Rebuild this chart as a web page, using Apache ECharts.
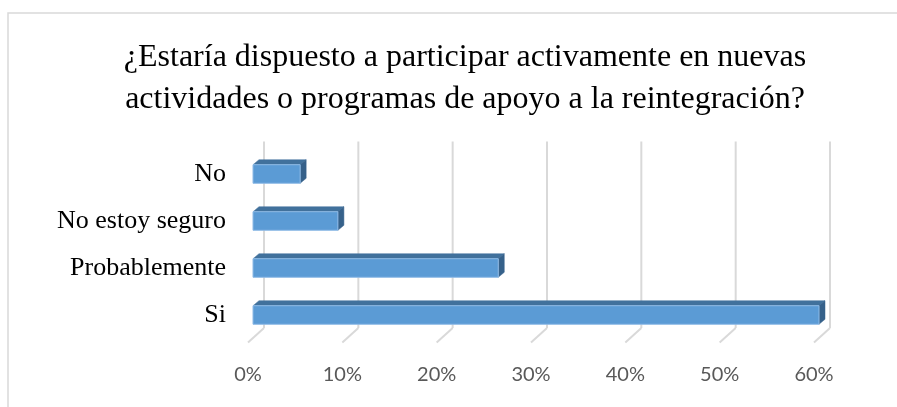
<!DOCTYPE html>
<html>
<head>
<meta charset="utf-8">
<script src="https://cdn.jsdelivr.net/npm/echarts@6/dist/echarts.min.js"></script>
<style>
html,body{margin:0;padding:0;background:#fff;}
#chart{width:897px;height:407px;}
</style>
</head>
<body>
<div id="chart"></div>
<script>
var titleLines = ['¿Estaría dispuesto a participar activamente en nuevas', 'actividades o programas de apoyo a la reintegración?'];
var categories = ['No', 'No estoy seguro', 'Probablemente', 'Si'];
var values = [0.05, 0.09, 0.26, 0.60];
var tickValues = [0, 0.1, 0.2, 0.3, 0.4, 0.5, 0.6];

var chart = echarts.init(document.getElementById('chart'), null, {renderer: 'canvas'});

var BACK_DX = 11, BACK_DY = -9, FRONT_DX = -5, FRONT_DY = 4;
var BAR_DX = 6, BAR_DY = -5;

function renderGrid(params, api) {
  var cs = params.coordSys;
  var p = api.coord([api.value(0), 0]);
  var x = p[0];
  var bottom = cs.y + cs.height;
  var gx = x + BACK_DX;
  var topY = cs.y + BACK_DY;
  var floorBackY = bottom - 10.5;
  var style = {stroke: '#d9d9d9', lineWidth: 2, fill: null};
  return {
    type: 'group',
    children: [
      {type: 'line', shape: {x1: gx, y1: topY, x2: gx, y2: floorBackY}, style: style},
      {type: 'line', shape: {x1: gx, y1: floorBackY, x2: x + FRONT_DX, y2: bottom + FRONT_DY}, style: style}
    ]
  };
}

function renderBar(params, api) {
  var start = api.coord([0, api.value(1)]);
  var end = api.coord([api.value(0), api.value(1)]);
  var h = api.size([0, 1])[1] * 0.395;
  var x0 = start[0], x1 = end[0];
  var y0 = start[1] - h / 2, y1 = start[1] + h / 2;
  return {
    type: 'group',
    children: [
      {type: 'polygon', shape: {points: [[x0, y0], [x0 + BAR_DX, y0 + BAR_DY], [x1 + BAR_DX, y0 + BAR_DY], [x1, y0]]},
        style: {fill: '#41719c', stroke: '#41719c', lineWidth: 0.5}},
      {type: 'polygon', shape: {points: [[x1, y0], [x1 + BAR_DX, y0 + BAR_DY], [x1 + BAR_DX, y1 + BAR_DY], [x1, y1]]},
        style: {fill: '#36618a', stroke: '#36618a', lineWidth: 0.5}},
      {type: 'rect', shape: {x: x0, y: y0, width: x1 - x0, height: y1 - y0},
        style: {fill: '#5b9bd5', stroke: '#8fbbe6', lineWidth: 1}}
    ]
  };
}

var option = {
  backgroundColor: '#ffffff',
  animation: false,
  graphic: [
    {type: 'rect', shape: {x: 8, y: 13, width: 1000, height: 1000},
      style: {fill: null, stroke: '#d9d9d9', lineWidth: 1.5}, silent: true}
  ],
  title: {
    text: titleLines.join('\n'),
    left: 460, textAlign: 'center',
    top: 32,
    textStyle: {fontFamily: 'Liberation Serif', fontSize: 32, fontWeight: 'normal', color: '#000', lineHeight: 42}
  },
  grid: {left: 253, right: 78, top: 150.5, bottom: 68.5, containLabel: false},
  xAxis: {
    type: 'value', min: 0, max: 0.6, interval: 0.1,
    axisLine: {show: false}, axisTick: {show: false}, splitLine: {show: false},
    axisLabel: {
      formatter: function (v) { return Math.round(v * 100) + '%'; },
      color: '#595959', fontFamily: 'Lato', fontSize: 20, margin: 26, padding: [0, 10, 0, 0]
    }
  },
  yAxis: {
    type: 'category', data: categories, inverse: true,
    axisLine: {show: false}, axisTick: {show: false}, splitLine: {show: false},
    axisLabel: {color: '#000', fontFamily: 'Liberation Serif', fontSize: 26, margin: 27, padding: [10, 0, 0, 0]}
  },
  series: [
    {
      type: 'custom', renderItem: renderGrid, silent: true, z: 1,
      data: tickValues.map(function (t) { return [t, 0]; }),
      encode: {x: 0, y: 1}
    },
    {
      type: 'custom', renderItem: renderBar, z: 2,
      data: values.map(function (v, i) { return [v, i]; }),
      encode: {x: 0, y: 1}
    }
  ]
};
chart.setOption(option);
</script>
</body>
</html>
